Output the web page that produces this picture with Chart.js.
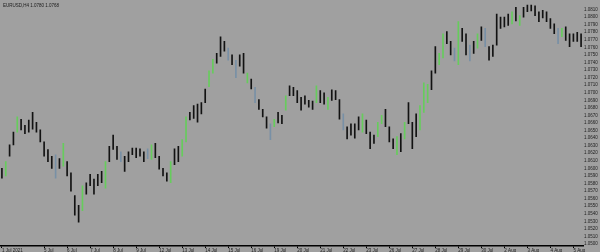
<!DOCTYPE html>
<html>
<head>
<meta charset="utf-8">
<title>EURUSD,H4</title>
<script src="https://cdn.jsdelivr.net/npm/chart.js"></script>
<style>
    html, body { margin: 0; padding: 0; background: #a0a0a0; }
    canvas { display: block; }
</style>
</head>
<body>
<canvas id="price-chart" width="600" height="252"></canvas>
<script>
// Bar highs / lows (one H4 bar each)
var highs = [
    1.0600, 1.0609, 1.0631, 1.0648, 1.0668, 1.0665, 1.0657, 1.0664, 1.0674, 1.0661,
    1.0651, 1.0635, 1.0625, 1.0616, 1.0618, 1.0613, 1.0633, 1.0609, 1.0594, 1.0564,
    1.0551, 1.0577, 1.0581, 1.0592, 1.0586, 1.0592, 1.0596, 1.0609, 1.0629, 1.0644,
    1.0629, 1.0622, 1.0616, 1.0622, 1.0627, 1.0627, 1.0626, 1.0622, 1.0626, 1.0631,
    1.0633, 1.0616, 1.0600, 1.0594, 1.0609, 1.0626, 1.0629, 1.0638, 1.0668, 1.0674,
    1.0683, 1.0685, 1.0687, 1.0705, 1.0729, 1.0744, 1.0752, 1.0774, 1.0768, 1.0759,
    1.0750, 1.0743, 1.0750, 1.0752, 1.0726, 1.0718, 1.0707, 1.0691, 1.0678, 1.0668,
    1.0659, 1.0665, 1.0674, 1.0670, 1.0696, 1.0709, 1.0707, 1.0703, 1.0694, 1.0696,
    1.0690, 1.0689, 1.0709, 1.0703, 1.0700, 1.0694, 1.0704, 1.0703, 1.0691, 1.0672,
    1.0655, 1.0659, 1.0659, 1.0668, 1.0672, 1.0664, 1.0648, 1.0644, 1.0661, 1.0670,
    1.0678, 1.0655, 1.0639, 1.0642, 1.0646, 1.0661, 1.0687, 1.0661, 1.0672, 1.0683,
    1.0713, 1.0711, 1.0729, 1.0761, 1.0752, 1.0778, 1.0781, 1.0768, 1.0759, 1.0794,
    1.0785, 1.0778, 1.0763, 1.0768, 1.0778, 1.0787, 1.0785, 1.0761, 1.0763, 1.0804,
    1.0800, 1.0800, 1.0804, 1.0807, 1.0813, 1.0802, 1.0813, 1.0816, 1.0816, 1.0815,
    1.0807, 1.0809, 1.0807, 1.0798, 1.0791, 1.0785, 1.0785, 1.0787, 1.0778, 1.0778,
    1.0780, 1.0778
];
var lows = [
    1.0587, 1.0590, 1.0616, 1.0631, 1.0648, 1.0651, 1.0646, 1.0648, 1.0652, 1.0648,
    1.0635, 1.0616, 1.0609, 1.0600, 1.0587, 1.0600, 1.0603, 1.0590, 1.0570, 1.0538,
    1.0529, 1.0544, 1.0566, 1.0577, 1.0566, 1.0577, 1.0581, 1.0574, 1.0609, 1.0625,
    1.0612, 1.0609, 1.0596, 1.0609, 1.0618, 1.0614, 1.0616, 1.0609, 1.0613, 1.0612,
    1.0614, 1.0599, 1.0590, 1.0583, 1.0581, 1.0605, 1.0609, 1.0616, 1.0635, 1.0664,
    1.0666, 1.0661, 1.0672, 1.0687, 1.0708, 1.0726, 1.0739, 1.0748, 1.0755, 1.0743,
    1.0737, 1.0720, 1.0735, 1.0726, 1.0713, 1.0705, 1.0687, 1.0678, 1.0668, 1.0653,
    1.0638, 1.0655, 1.0660, 1.0659, 1.0677, 1.0696, 1.0696, 1.0687, 1.0677, 1.0685,
    1.0681, 1.0678, 1.0687, 1.0687, 1.0685, 1.0678, 1.0690, 1.0691, 1.0665, 1.0651,
    1.0639, 1.0644, 1.0640, 1.0651, 1.0648, 1.0646, 1.0626, 1.0633, 1.0642, 1.0659,
    1.0655, 1.0635, 1.0626, 1.0618, 1.0622, 1.0639, 1.0659, 1.0626, 1.0642, 1.0651,
    1.0674, 1.0687, 1.0704, 1.0726, 1.0737, 1.0746, 1.0765, 1.0750, 1.0742, 1.0737,
    1.0768, 1.0750, 1.0742, 1.0752, 1.0759, 1.0769, 1.0761, 1.0743, 1.0748, 1.0763,
    1.0785, 1.0787, 1.0789, 1.0791, 1.0795, 1.0789, 1.0800, 1.0807, 1.0808, 1.0802,
    1.0794, 1.0799, 1.0794, 1.0785, 1.0778, 1.0765, 1.0774, 1.0769, 1.0761, 1.0768,
    1.0768, 1.0761
];

// Bars that closed up, and bars that closed about flat
var upBars = [1, 4, 16, 21, 27, 39, 44, 47, 48, 54, 55, 64, 71, 74, 82, 85, 94, 98, 99,
    103, 105, 109, 110, 111, 114, 115, 119, 124, 133, 135, 146];
var flatBars = [14, 31, 38, 59, 61, 66, 70, 89, 118, 122, 126, 145];

// Time scale: first bar date, then one label per trading day
var firstDay = "1 Jul 2021";
var dayLabels = ["5 Jul", "6 Jul", "7 Jul", "8 Jul", "9 Jul", "12 Jul", "13 Jul", "14 Jul",
    "15 Jul", "16 Jul", "19 Jul", "20 Jul", "21 Jul", "22 Jul", "23 Jul", "26 Jul", "27 Jul",
    "28 Jul", "29 Jul", "30 Jul", "2 Aug", "3 Aug", "4 Aug", "5 Aug"];
var dayStart = 11;
var barsPerDay = 6;

// Price scale
var priceMin = 1.04974;
var priceMax = 1.08177;
var priceStep = 0.001;

var chartTitle = "EURUSD,H4 1.0780 1.0768";

(function () {
    "use strict";

    var categories = highs.map(function (h, i) {
        if (i === 0) {
            return firstDay;
        }
        var k = (i - dayStart) / barsPerDay;
        if (k >= 0 && k % 1 === 0 && k < dayLabels.length) {
            return dayLabels[k];
        }
        return "";
    });

    var colors = highs.map(function (h, i) {
        if (upBars.indexOf(i) >= 0) return "#66cc5c";
        if (flatBars.indexOf(i) >= 0) return "#7890a6";
        return "#121212";
    });

    // Gray terminal background
    var background = {
        id: "background",
        beforeDraw: function (chart) {
            var c = chart.ctx;
            c.save();
            c.fillStyle = "#a0a0a0";
            c.fillRect(0, 0, chart.width, chart.height);
            c.restore();
        }
    };

    // Symbol line in the top left corner
    var symbolLine = {
        id: "symbolLine",
        afterDraw: function (chart) {
            var c = chart.ctx;
            c.save();
            c.fillStyle = "#1a1a1a";
            c.font = "4.5px 'Liberation Sans'";
            c.textBaseline = "middle";
            c.fillText(chartTitle, 3, 6);
            c.restore();
        }
    };

    var ctx = document.getElementById("price-chart").getContext("2d");
    var priceChart = new Chart(ctx, {
        type: "bar",
        data: {
            labels: categories,
            datasets: [{
                data: highs.map(function (h, i) { return [lows[i], h]; }),
                backgroundColor: colors,
                borderWidth: 0,
                borderSkipped: false,
                barThickness: 1
            }]
        },
        options: {
            responsive: false,
            animation: false,
            devicePixelRatio: 1,
            layout: { padding: 0 },
            plugins: {
                legend: { display: false },
                tooltip: { enabled: false }
            },
            scales: {
                x: {
                    offset: true,
                    grid: { drawOnChartArea: false, offset: false, tickLength: 2, color: "#000000" },
                    border: { color: "#000000", width: 1.5 },
                    ticks: {
                        autoSkip: false,
                        maxRotation: 0,
                        align: "start",
                        padding: 0,
                        color: "#222222",
                        font: { size: 4.5, family: "Liberation Sans" },
                        callback: function (v) {
                            var s = this.getLabelForValue(v);
                            return s === "" ? null : s;
                        }
                    },
                    afterFit: function (scale) { scale.height = 6; }
                },
                y: {
                    position: "right",
                    min: priceMin,
                    max: priceMax,
                    grid: { display: false, drawTicks: false },
                    border: { display: false },
                    ticks: {
                        stepSize: priceStep,
                        includeBounds: false,
                        autoSkip: false,
                        padding: 1,
                        color: "#222222",
                        font: { size: 4.5, family: "Liberation Sans" },
                        callback: function (v) { return v.toFixed(4); }
                    },
                    afterFit: function (scale) { scale.width = 17; }
                }
            }
        },
        plugins: [background, symbolLine]
    });
})();
</script>
</body>
</html>
